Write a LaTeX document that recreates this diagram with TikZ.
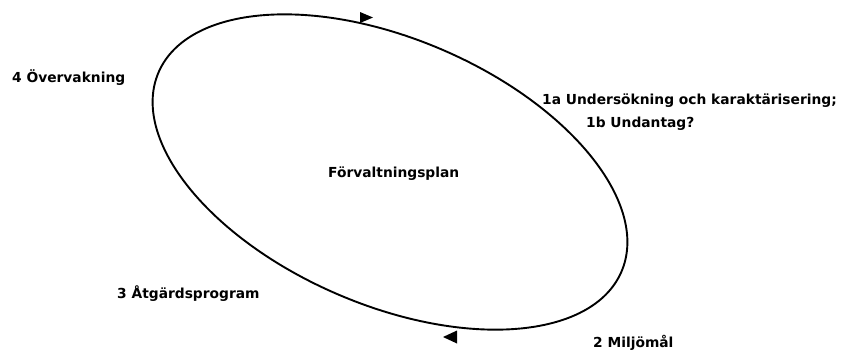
\documentclass[tikz,border=0pt]{standalone}
\usepackage{fontspec}
\setmainfont{DejaVu Sans}
\usepackage{tikz}
\usetikzlibrary{positioning}

\begin{document}
\begin{tikzpicture}[
        x=1pt, y=1pt,
        cycle_line/.style={line width=1.9pt, black},
        mark_tip/.style={fill=black, draw=none},
        step_label/.style={anchor=base west, inner sep=0pt, font=\fontsize{13.8}{16}\selectfont\bfseries}
    ]
        \useasboundingbox (0,0) rectangle (845,-349);

        % Kretsloppet (lutande ellips)
        \draw[cycle_line] (390,-172) ellipse [x radius=252, y radius=133, rotate=-23.3];

        % Pilspetsar
        \fill[mark_tip] (360,-12) -- (373,-17.5) -- (360,-23) -- cycle;
        \fill[mark_tip] (443,-337) -- (457,-330.5) -- (457,-343.5) -- cycle;

        % Etiketter
        \node[step_label] (plan) at (328,-177) {Förvaltningsplan};
        \node[step_label] (steg1a) at (542,-104) {1a Undersökning och karaktärisering;};
        \node[step_label] (steg1b) at (586,-127) {1b Undantag?};
        \node[step_label] (steg2) at (593,-347) {2 Miljömål};
        \node[step_label] (steg3) at (117,-298) {3 Åtgärdsprogram};
        \node[step_label] (steg4) at (12,-82) {4 Övervakning};

    \end{tikzpicture}
\end{document}
